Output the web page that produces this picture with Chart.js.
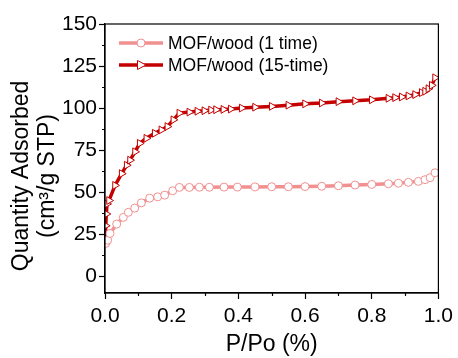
<!DOCTYPE html>
<html>
<head>
  <meta charset="utf-8" />
  <script src="https://cdn.jsdelivr.net/npm/chart.js@4.4.0/dist/chart.umd.min.js"></script>
  <style>
    body { margin:0; background:#fff; }
    #holder { width:458px; height:358px; position:relative; }
  </style>
</head>
<body>
<div id="holder"><canvas id="isoChart"></canvas></div>
<script>
const oneTimeP = [0.002, 0.008, 0.015, 0.035, 0.055, 0.07, 0.089, 0.109, 0.134, 0.158, 0.179, 0.203, 0.223, 0.253, 0.283, 0.313, 0.357, 0.397, 0.45, 0.5, 0.55, 0.6, 0.65, 0.7, 0.75, 0.8, 0.85, 0.88, 0.91, 0.94, 0.96, 0.975, 0.99];
const oneTimeQ = [19.5, 21.4, 25.4, 31, 35, 38, 40.5, 43.6, 46.4, 47.2, 48.2, 50.8, 52.8, 52.8, 52.9, 52.9, 53, 53, 53.1, 53.2, 53.2, 53.3, 53.5, 53.8, 54.2, 54.6, 55, 55.3, 55.8, 56.4, 57.4, 58.6, 61.5];

const fifteenP = [0.001, 0.002, 0.004, 0.006, 0.012, 0.03, 0.05, 0.065, 0.075, 0.09, 0.104, 0.124, 0.149, 0.169, 0.187, 0.205, 0.223, 0.253, 0.277, 0.298, 0.318, 0.333, 0.355, 0.377, 0.41, 0.45, 0.5, 0.55, 0.6, 0.65, 0.7, 0.75, 0.8, 0.85, 0.87, 0.89, 0.91, 0.93, 0.95, 0.96, 0.97, 0.98, 0.99];
const fifteenQ = [22, 30, 37, 43, 45, 54, 61, 66, 69, 74, 79, 82, 85, 87, 89, 93, 97, 97.6, 98.1, 98.4, 98.8, 99, 99.2, 99.4, 100, 100.5, 101, 101.7, 102.5, 103, 103.8, 104.3, 104.9, 105.8, 106.2, 106.6, 107.2, 108, 109.2, 110, 111.5, 113.5, 118];

const seriesLabels = ['MOF/wood (1 time)', 'MOF/wood (15-time)'];
const yTitle = ['Quantity Adsorbed', '(cm\u00b3/g STP)'];
const xTitle = 'P/Po (%)';
const yTicks = [0, 25, 50, 75, 100, 125, 150];
const yMinor = [12.5, 37.5, 62.5, 87.5, 112.5, 137.5];
const xTicks = [0, 0.2, 0.4, 0.6, 0.8, 1.0];
const xMinor = [0.1, 0.3, 0.5, 0.7, 0.9];

const FONT = "'Liberation Sans', Arial, sans-serif";
const PINK = '#f09090', RED = '#c40000';

function pts(xs, ys) { return xs.map((x, i) => ({ x: x, y: ys[i] })); }

// frame, minor ticks, y title and the in-plot legend
const extras = {
  id: 'extras',
  afterDraw(chart) {
    const ctx = chart.ctx, a = chart.chartArea;
    const xs = chart.scales.x, ys = chart.scales.y;
    ctx.save();
    ctx.strokeStyle = '#000';
    ctx.lineWidth = 1.2;
    ctx.strokeRect(a.left, a.top, a.right - a.left, a.bottom - a.top);
    ctx.beginPath();
    yMinor.forEach(v => { const p = Math.round(ys.getPixelForValue(v)) + 0.5; ctx.moveTo(a.left - 3, p); ctx.lineTo(a.left, p); });
    xMinor.forEach(v => { const p = Math.round(xs.getPixelForValue(v)) + 0.5; ctx.moveTo(p, a.bottom); ctx.lineTo(p, a.bottom + 3); });
    ctx.stroke();

    // y title, sits a little below the middle like the original
    ctx.save();
    ctx.translate(0, 176);
    ctx.rotate(-Math.PI / 2);
    ctx.fillStyle = '#000';
    ctx.font = '23px ' + FONT;
    ctx.textAlign = 'center';
    ctx.textBaseline = 'middle';
    yTitle.forEach((t, i) => ctx.fillText(t, 0, 22 + i * 26));
    ctx.restore();

    chart.data.datasets.forEach((ds, i) => {
      const y = a.top + 19 + i * 22;
      const x0 = a.left + 14, x1 = a.left + 58, xm = (x0 + x1) / 2;
      ctx.strokeStyle = ds.borderColor;
      ctx.lineWidth = 3.5;
      ctx.beginPath(); ctx.moveTo(x0, y); ctx.lineTo(x1, y); ctx.stroke();
      ctx.fillStyle = '#fff';
      ctx.lineWidth = 1;
      ctx.beginPath();
      if (ds.pointStyle === 'circle') {
        ctx.arc(xm, y, 4, 0, Math.PI * 2);
      } else {
        ctx.moveTo(xm + 5, y); ctx.lineTo(xm - 3.5, y - 4.5); ctx.lineTo(xm - 3.5, y + 4.5); ctx.closePath();
      }
      ctx.fill(); ctx.stroke();
      ctx.fillStyle = '#000';
      ctx.font = '17.5px ' + FONT;
      ctx.textAlign = 'left';
      ctx.textBaseline = 'middle';
      ctx.fillText(ds.label, x1 + 5, y + 1);
    });
    ctx.restore();
  }
};

new Chart(document.getElementById('isoChart'), {
  type: 'line',
  data: {
    datasets: [
      { label: seriesLabels[0], data: pts(oneTimeP, oneTimeQ), borderColor: PINK, backgroundColor: '#fff',
        borderWidth: 3.5, pointStyle: 'circle', pointRadius: 4, pointBorderWidth: 1, pointBorderColor: PINK, pointBackgroundColor: '#fff' },
      { label: seriesLabels[1], data: pts(fifteenP, fifteenQ), borderColor: RED, backgroundColor: '#fff',
        borderWidth: 3.5, pointStyle: 'triangle', rotation: 90, pointRadius: 4.5, pointBorderWidth: 1, pointBorderColor: RED, pointBackgroundColor: '#fff' }
    ]
  },
  options: {
    responsive: true,
    maintainAspectRatio: false,
    animation: false,
    parsing: false,
    layout: { padding: { top: 24, right: 17, left: 0, bottom: 0 } },
    plugins: { legend: { display: false }, tooltip: { enabled: false } },
    scales: {
      x: {
        type: 'linear', min: 0, max: 1,
        afterBuildTicks: s => { s.ticks = xTicks.map(v => ({ value: v })); },
        afterFit: s => { s.height = 65; },
        border: { color: '#000', width: 1.2 },
        grid: { drawOnChartArea: false, drawTicks: true, tickLength: 6, tickColor: '#000', tickWidth: 1.2 },
        ticks: { color: '#000', font: { family: FONT, size: 21 }, padding: 5, maxRotation: 0, callback: v => v.toFixed(1) },
        title: { display: true, text: xTitle, color: '#000', font: { family: FONT, size: 23 }, padding: { top: 0, bottom: 0 } }
      },
      y: {
        type: 'linear', min: -10, max: 150,
        afterBuildTicks: s => { s.ticks = yTicks.map(v => ({ value: v })); },
        afterFit: s => { s.width = 105; },
        border: { color: '#000', width: 1.2 },
        grid: { drawOnChartArea: false, drawTicks: true, tickLength: 6, tickColor: '#000', tickWidth: 1.2 },
        ticks: { color: '#000', font: { family: FONT, size: 21 }, padding: 2 },
        title: { display: false }
      }
    }
  },
  plugins: [extras]
});
</script>
</body>
</html>
